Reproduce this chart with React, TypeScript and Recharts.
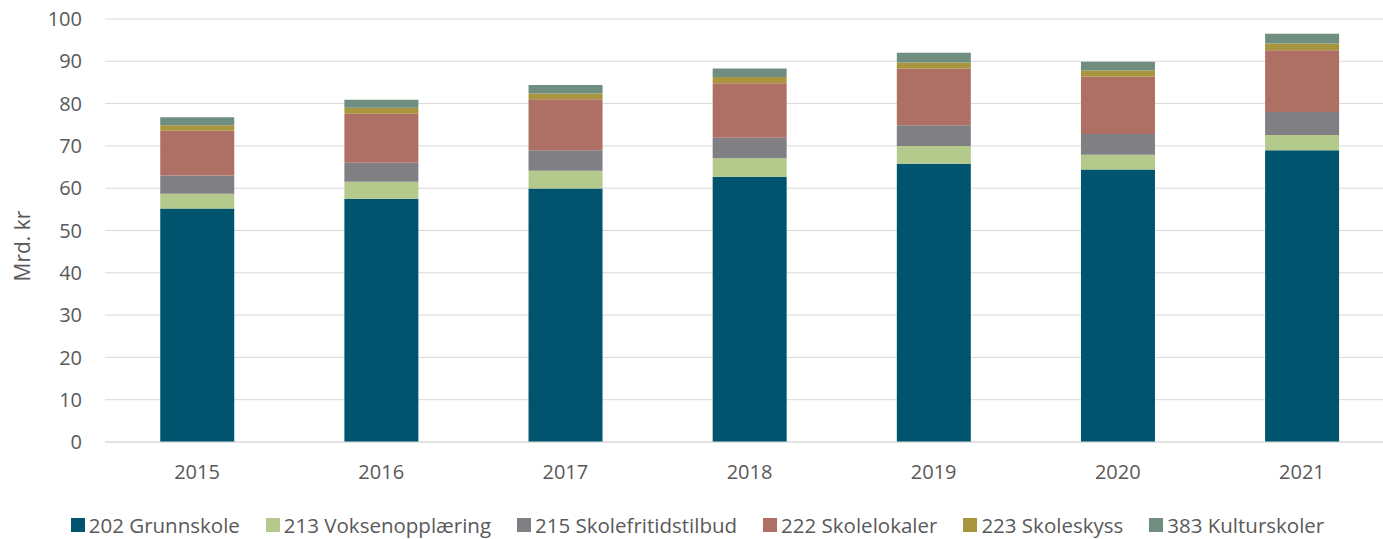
import React from 'react';
import { BarChart, Bar, XAxis, YAxis, CartesianGrid, Legend } from 'recharts';

const years = ['2015', '2016', '2017', '2018', '2019', '2020', '2021'];
const grunnskole = [55.2, 57.5, 59.9, 62.7, 65.8, 64.4, 69.0];
const voksenopplaering = [3.5, 4.0, 4.2, 4.4, 4.2, 3.5, 3.6];
const skolefritidstilbud = [4.3, 4.5, 4.9, 4.8, 4.9, 4.9, 5.4];
const skolelokaler = [10.6, 11.6, 12.0, 12.9, 13.4, 13.6, 14.6];
const skoleskyss = [1.3, 1.4, 1.4, 1.5, 1.4, 1.4, 1.6];
const kulturskoler = [1.9, 1.9, 2.0, 2.0, 2.3, 2.1, 2.3];
const yTicks = [0, 10, 20, 30, 40, 50, 60, 70, 80, 90, 100];

const series = [
  { key: 'g', name: '202 Grunnskole', color: '#00546E', values: grunnskole },
  { key: 'v', name: '213 Voksenopplæring', color: '#B4C98C', values: voksenopplaering },
  { key: 's', name: '215 Skolefritidstilbud', color: '#7F7F84', values: skolefritidstilbud },
  { key: 'l', name: '222 Skolelokaler', color: '#AE7064', values: skolelokaler },
  { key: 'k', name: '223 Skoleskyss', color: '#A8953E', values: skoleskyss },
  { key: 'c', name: '383 Kulturskoler', color: '#6F8E7F', values: kulturskoler },
];

const data = years.map((y, i) => {
  const row: Record<string, string | number> = { year: y };
  series.forEach((s) => {
    row[s.key] = s.values[i];
  });
  return row;
});

const FONT = '"Open Sans", sans-serif';
const TEXT = '#595959';

const LegendContent = () => (
  <div
    style={{
      display: 'flex',
      justifyContent: 'center',
      alignItems: 'center',
      fontFamily: FONT,
      fontSize: 20.5,
      color: TEXT,
      width: 1383,
      boxSizing: 'border-box',
      paddingLeft: 12,
    }}
  >
    {series.map((s, i) => (
      <div
        key={s.key}
        style={{ display: 'flex', alignItems: 'center', marginLeft: i === 0 ? 0 : 26 }}
      >
        <span style={{ width: 14, height: 14, background: s.color, display: 'inline-block', marginRight: 4 }} />
        <span>{s.name}</span>
      </div>
    ))}
  </div>
);

export default function App() {
  return (
    <div style={{ position: 'fixed', left: 0, top: 0, width: 1383, height: 539, overflow: 'hidden', background: '#fff' }}>
      <BarChart
        width={1394}
        height={539}
        data={data}
        margin={{ top: 19, right: 0, left: 0, bottom: 14 }}
        barCategoryGap="30%"
      >
        <CartesianGrid vertical={false} stroke="#D9D9D9" strokeWidth={1} />
        <XAxis
          dataKey="year"
          axisLine={{ stroke: '#D9D9D9' }}
          tickLine={false}
          tickMargin={17}
          height={55}
          tick={{ fill: TEXT, fontSize: 20, fontFamily: FONT }}
        />
        <YAxis
          width={105}
          domain={[0, 100]}
          ticks={yTicks}
          axisLine={false}
          tickLine={false}
          tickMargin={17}
          tick={{ fill: TEXT, fontSize: 20, fontFamily: FONT }}
          label={{
            content: () => (
              <text
                x={22}
                y={246}
                transform="rotate(-90 22 246)"
                textAnchor="middle"
                dominantBaseline="central"
                fill={TEXT}
                fontSize={21}
                fontFamily={FONT}
              >
                Mrd. kr
              </text>
            ),
          }}
        />
        <Legend verticalAlign="bottom" content={<LegendContent />} wrapperStyle={{ bottom: 0, left: 0, width: 1383 }} />
        {series.map((s) => (
          <Bar key={s.key} dataKey={s.key} name={s.name} stackId="a" fill={s.color} isAnimationActive={false} />
        ))}
      </BarChart>
    </div>
  );
}
